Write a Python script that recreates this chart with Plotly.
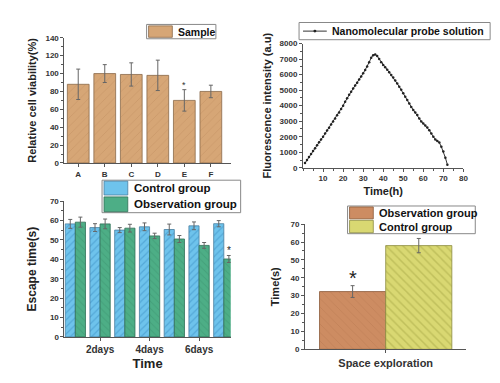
import plotly.graph_objects as go

# ---------------- data ----------------
cell_cats = ["A", "B", "C", "D", "E", "F"]
cell_vals = [88, 100, 99, 98, 70, 80]
cell_err = [17, 10, 13, 17, 12, 7]

probe_t = list(range(1, 73))
probe_vals = [300, 500, 700, 880, 1080, 1260, 1450, 1640, 1820, 2000,
              2200, 2400, 2580, 2780, 2980, 3170, 3380, 3560, 3780, 4000,
              4250, 4480, 4700, 4900, 5100, 5300, 5480, 5680, 5880, 6080,
              6300, 6520, 6800, 7080, 7250, 7300, 7200, 7000, 6800, 6620,
              6480, 6320, 6150, 5980, 5820, 5620, 5420, 5220, 5020, 4800,
              4580, 4360, 4140, 3920, 3720, 3560, 3400, 3180, 2980, 2850,
              2720, 2600, 2420, 2200, 2000, 1820, 1720, 1620, 1350, 1050,
              650, 200]

days = [1, 2, 3, 4, 5, 6, 7]
day_tickvals = [2, 4, 6]
day_ticktext = ["2days", "4days", "6days"]
escape_control = [58.3, 56.4, 55.1, 56.8, 55.4, 57.3, 58.4]
escape_control_err = [2.3, 2.0, 1.3, 2.0, 2.8, 2.0, 1.6]
escape_obs = [59.2, 58.3, 56.1, 52.1, 50.5, 47.2, 40.2]
escape_obs_err = [2.6, 2.5, 2.0, 1.4, 1.8, 1.5, 1.8]

space_cat = ["Space exploration"]
space_obs = [32.3]
space_obs_err = [3.3]
space_ctrl = [58.0]
space_ctrl_err = [4.0]

# ---------------- styling ----------------
W, H = 500, 383
FONT = "Arial"
AX = "#555555"
TAN = "#D6A676"
BLUE = "#6EC3EC"
GREEN = "#4DAE86"
BROWN = "#CD8C62"
YEL = "#D9D872"


def dx(a, b):
    return [a / W, b / W]


def dy(top, bottom):
    return [1 - bottom / H, 1 - top / H]


def err(arr):
    return dict(type="data", array=arr, color="#666666", thickness=1, width=2)


fig = go.Figure()

traces = []
traces.append(go.Bar(
    x=cell_cats, y=cell_vals, name="Sample", error_y=err(cell_err),
    marker=dict(color=TAN, line=dict(color="#8a6a4a", width=0.8),
                pattern=dict(shape="/", fgcolor="#c08f60", size=6, solidity=0.15)),
    xaxis="x", yaxis="y"))
traces.append(go.Scatter(
    x=probe_t, y=probe_vals, name="Nanomolecular probe solution",
    mode="lines+markers", line=dict(color="#333333", width=1),
    marker=dict(color="#222222", size=2.5),
    xaxis="x2", yaxis="y2"))
traces.append(go.Bar(
    x=days, y=escape_control, name="Control group", error_y=err(escape_control_err),
    marker=dict(color=BLUE, line=dict(color="#4a7fa0", width=0.8),
                pattern=dict(shape="/", fgcolor="#3b8fc4", size=5, solidity=0.25)),
    xaxis="x3", yaxis="y3", offsetgroup="c"))
traces.append(go.Bar(
    x=days, y=escape_obs, name="Observation group", error_y=err(escape_obs_err),
    marker=dict(color=GREEN, line=dict(color="#2f6e55", width=0.8),
                pattern=dict(shape="\\", fgcolor="#3c9470", size=5, solidity=0.2)),
    xaxis="x3", yaxis="y3", offsetgroup="o"))
traces.append(go.Bar(
    x=space_cat, y=space_obs, name="Observation group", error_y=err(space_obs_err),
    marker=dict(color=BROWN, line=dict(color="#8a5a3a", width=0.8),
                pattern=dict(shape="\\", fgcolor="#b87a52", size=6, solidity=0.15)),
    xaxis="x4", yaxis="y4", offsetgroup="o2"))
traces.append(go.Bar(
    x=space_cat, y=space_ctrl, name="Control group", error_y=err(space_ctrl_err),
    marker=dict(color=YEL, line=dict(color="#8a8a40", width=0.8),
                pattern=dict(shape="\\", fgcolor="#a8a845", size=6, solidity=0.25)),
    xaxis="x4", yaxis="y4", offsetgroup="c2"))
for t in traces:
    t.showlegend = False
    fig.add_trace(t)

# significance stars
fig.add_annotation(x=cell_cats[4], y=cell_vals[4] + cell_err[4] + 5, text="*",
                   xref="x", yref="y", showarrow=False, font=dict(size=9, color="#333"))
fig.add_annotation(x=days[6] + 0.2, y=escape_obs[6] + escape_obs_err[6] + 2.5, text="*",
                   xref="x3", yref="y3", showarrow=False, font=dict(size=10, color="#222"))
fig.add_annotation(x=-0.2, y=space_obs[0] + space_obs_err[0] + 4.5, text="*",
                   xref="x4", yref="y4", showarrow=False, font=dict(size=20, color="#222"))


# ---------------- compact legend boxes (pixel-positioned) ----------------
def px_x(v):
    return v / W


def px_y(v):
    return 1 - v / H


def legend_box(x0, y0, x1, y1, entries, size):
    """entries: list of (trace, row_top, row_bottom)"""
    fig.add_shape(type="rect", xref="paper", yref="paper",
                  x0=px_x(x0), x1=px_x(x1), y0=px_y(y1), y1=px_y(y0),
                  line=dict(color="#888", width=1), fillcolor="white", layer="above")
    for tr, rt, rb in entries:
        cy = (rt + rb) / 2
        if isinstance(tr, go.Scatter):
            fig.add_shape(type="line", xref="paper", yref="paper",
                          x0=px_x(x0 + 4), x1=px_x(x0 + 28), y0=px_y(cy), y1=px_y(cy),
                          line=dict(color=tr.line.color, width=1), layer="above")
            fig.add_shape(type="circle", xref="paper", yref="paper",
                          x0=px_x(x0 + 14.5), x1=px_x(x0 + 17.5),
                          y0=px_y(cy + 1.5), y1=px_y(cy - 1.5),
                          fillcolor=tr.marker.color, line=dict(width=0), layer="above")
            tx = x0 + 31
        else:
            fig.add_shape(type="rect", xref="paper", yref="paper",
                          x0=px_x(x0 + 2), x1=px_x(x0 + 26), y0=px_y(rb - 0.5), y1=px_y(rt + 0.5),
                          fillcolor=tr.marker.color,
                          line=dict(color=tr.marker.line.color, width=0.8), layer="above")
            tx = x0 + 30
        fig.add_annotation(xref="paper", yref="paper", x=px_x(tx), y=px_y(cy),
                           xanchor="left", yanchor="middle", showarrow=False,
                           text=tr.name,
                           font=dict(family=FONT, size=size, color="#111", weight="bold"))


legend_box(140, 13, 210, 28, [(traces[0], 14, 27)], 10.5)
legend_box(294, 11, 487, 29, [(traces[1], 11, 29)], 10.5)
legend_box(95, 176, 235, 210, [(traces[2], 176.5, 192), (traces[3], 193, 209.5)], 11.5)
legend_box(343, 203, 472, 232, [(traces[4], 203.5, 217), (traces[5], 217.5, 231.5)], 11)

tickfont = dict(family=FONT, size=8, color="#333", weight="bold")


def axis(domain, rng, title, **kw):
    d = dict(domain=domain, range=rng, showline=True, linecolor=AX, linewidth=1,
             ticks="outside", ticklen=3, tickcolor=AX, showgrid=False, zeroline=False,
             tickfont=tickfont, fixedrange=True,
             title=dict(text=title, font=dict(family=FONT, size=11, color="#222", weight="bold")))
    d.update(kw)
    return d


minor = dict(ticks="outside", ticklen=2, tickcolor=AX, showgrid=False)

fig.update_layout(
    width=W, height=H, margin=dict(l=0, r=0, t=0, b=0),
    paper_bgcolor="white", plot_bgcolor="white",
    barmode="group", bargap=0.18, bargroupgap=0.0,
    font=dict(family=FONT), showlegend=False,
    xaxis=axis(dx(57, 225), [-0.52, 5.75], "", anchor="y", type="category"),
    yaxis=axis(dy(27, 158), [0, 140], "Relative cell viability(%)", anchor="x",
               dtick=20, title_standoff=6, minor=dict(minor, dtick=10)),
    xaxis2=axis(dx(298, 460), [0, 80], "Time(h)", anchor="y2", title_standoff=4,
                tickvals=[10, 20, 30, 40, 50, 60, 70, 80], minor=dict(minor, dtick=5)),
    yaxis2=axis(dy(33, 163), [0, 8000], "Fluorescence intensity (a.u)", anchor="x2",
                dtick=1000, title_standoff=5, minor=dict(minor, dtick=500)),
    xaxis3=axis(dx(57, 225), [0.56, 7.28], "Time", anchor="y3",
                tickvals=day_tickvals, ticktext=day_ticktext, title_standoff=4,
                tickfont=dict(family=FONT, size=10, color="#333", weight="bold")),
    yaxis3=axis(dy(198, 340), [0, 70], "Escape time(s)", anchor="x3", dtick=10,
                title_standoff=10, minor=dict(minor, dtick=5)),
    xaxis4=axis(dx(300, 463), [-0.5, 0.5], "", anchor="y4", type="category",
                tickfont=dict(family=FONT, size=11, color="#333", weight="bold")),
    yaxis4=axis(dy(222, 353), [0, 70], "Time(s)", anchor="x4", dtick=10, title_standoff=8,
                minor=dict(minor, dtick=5)),
)

fig.layout.xaxis3.title.font.size = 13
fig.layout.yaxis3.title.font.size = 12

fig.write_html("out.html")
